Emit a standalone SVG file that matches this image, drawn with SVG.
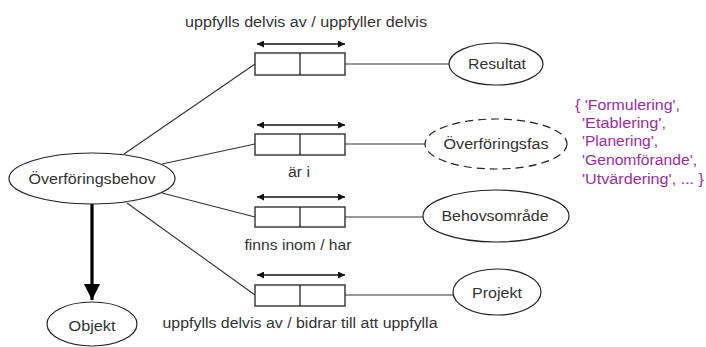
<svg xmlns="http://www.w3.org/2000/svg" width="706" height="347" viewBox="0 0 706 347">
  <defs>
    <marker id="tip" viewBox="0 0 10 10" refX="10" refY="5" markerWidth="7" markerHeight="7" markerUnits="userSpaceOnUse" orient="auto-start-reverse">
      <path d="M0,0 L10,5 L0,10 z" fill="#111"/>
    </marker>
    <marker id="bigtip" viewBox="0 0 10 10" refX="10" refY="5" markerWidth="16" markerHeight="16" markerUnits="userSpaceOnUse" orient="auto">
      <path d="M0,0 L10,5 L0,10 z" fill="#000"/>
    </marker>
  </defs>
  <style>
    text { font-family: "Liberation Sans", Arial, sans-serif; font-size: 14px; fill: #333; }
    .lbl { text-anchor: middle; }
    .val { fill: #A02CA0; }
    .node { fill: #fff; stroke: #222; stroke-width: 1.2; }
    .dashed { stroke-dasharray: 8 5; }
    .link { stroke: #333; stroke-width: 1.1; fill: none; }
    .box { fill: #fff; stroke: #222; stroke-width: 1.3; }
    .dir { stroke: #111; stroke-width: 1.5; fill: none; marker-start: url(#tip); marker-end: url(#tip); }
  </style>
  <rect width="706" height="347" fill="#fff"/>

  <!-- connectors -->
  <g id="connectors">
    <line class="link" x1="124" y1="154" x2="255" y2="64"/>
    <line class="link" x1="162" y1="164" x2="255" y2="144"/>
    <line class="link" x1="162" y1="193" x2="255" y2="217"/>
    <line class="link" x1="127" y1="203" x2="255" y2="295"/>
    <line class="link" x1="345" y1="64" x2="449" y2="64"/>
    <line class="link" x1="345" y1="144" x2="425" y2="144"/>
    <line class="link" x1="345" y1="217" x2="423" y2="217"/>
    <line class="link" x1="345" y1="295" x2="453" y2="295"/>
    <line x1="92" y1="204" x2="92" y2="300" stroke="#000" stroke-width="3.2" marker-end="url(#bigtip)"/>

    <!-- relation boxes with reading-direction arrows -->
    <g id="rel-resultat">
      <line class="dir" x1="257" y1="44" x2="345" y2="44"/>
      <rect class="box" x="255" y="53" width="90" height="22"/>
      <line class="box" x1="300" y1="53" x2="300" y2="75"/>
      <text class="lbl" x="306" y="27" textLength="242" lengthAdjust="spacingAndGlyphs">uppfylls delvis av / uppfyller delvis</text>
    </g>
    <g id="rel-fas">
      <line class="dir" x1="257" y1="125" x2="345" y2="125"/>
      <rect class="box" x="255" y="134" width="90" height="21"/>
      <line class="box" x1="300" y1="134" x2="300" y2="155"/>
      <text class="lbl" x="299" y="177" textLength="22" lengthAdjust="spacingAndGlyphs">är i</text>
    </g>
    <g id="rel-omrade">
      <line class="dir" x1="257" y1="197" x2="345" y2="197"/>
      <rect class="box" x="255" y="207" width="90" height="20"/>
      <line class="box" x1="300" y1="207" x2="300" y2="227"/>
      <text class="lbl" x="298" y="250" textLength="107" lengthAdjust="spacingAndGlyphs">finns inom / har</text>
    </g>
    <g id="rel-projekt">
      <line class="dir" x1="257" y1="275" x2="345" y2="275"/>
      <rect class="box" x="255" y="285" width="90" height="21"/>
      <line class="box" x1="300" y1="285" x2="300" y2="306"/>
      <text class="lbl" x="300" y="328" textLength="275" lengthAdjust="spacingAndGlyphs">uppfylls delvis av / bidrar till att uppfylla</text>
    </g>
  </g>

  <!-- nodes -->
  <g id="overforingsbehov">
    <ellipse class="node" cx="92" cy="178.5" rx="83" ry="25.5"/>
    <text class="lbl" x="92" y="183.5" textLength="127" lengthAdjust="spacingAndGlyphs">Överföringsbehov</text>
  </g>
  <g id="objekt">
    <ellipse class="node" cx="92" cy="324" rx="45" ry="22"/>
    <text class="lbl" x="92" y="331" textLength="47" lengthAdjust="spacingAndGlyphs">Objekt</text>
  </g>
  <g id="resultat">
    <ellipse class="node" cx="496" cy="64" rx="47" ry="21"/>
    <text class="lbl" x="497" y="69" textLength="58" lengthAdjust="spacingAndGlyphs">Resultat</text>
  </g>
  <g id="overforingsfas">
    <ellipse class="node dashed" cx="496" cy="144" rx="71" ry="25"/>
    <text class="lbl" x="496" y="149" textLength="105" lengthAdjust="spacingAndGlyphs">Överföringsfas</text>
  </g>
  <g id="behovsomrade">
    <ellipse class="node" cx="496" cy="216" rx="73" ry="26"/>
    <text class="lbl" x="495" y="221" textLength="107" lengthAdjust="spacingAndGlyphs">Behovsområde</text>
  </g>
  <g id="projekt">
    <ellipse class="node" cx="497" cy="292" rx="44" ry="23"/>
    <text class="lbl" x="497" y="297.5" textLength="50" lengthAdjust="spacingAndGlyphs">Projekt</text>
  </g>

  <!-- value set of Överföringsfas -->
  <g id="fas-values">
    <text class="val" x="575" y="110" textLength="105" lengthAdjust="spacingAndGlyphs">{ 'Formulering',</text>
    <text class="val" x="582" y="128" textLength="84" lengthAdjust="spacingAndGlyphs">'Etablering',</text>
    <text class="val" x="582" y="146" textLength="76" lengthAdjust="spacingAndGlyphs">'Planering',</text>
    <text class="val" x="582" y="165" textLength="115" lengthAdjust="spacingAndGlyphs">'Genomförande',</text>
    <text class="val" x="582" y="184" textLength="122" lengthAdjust="spacingAndGlyphs">'Utvärdering', ... }</text>
  </g>
</svg>
